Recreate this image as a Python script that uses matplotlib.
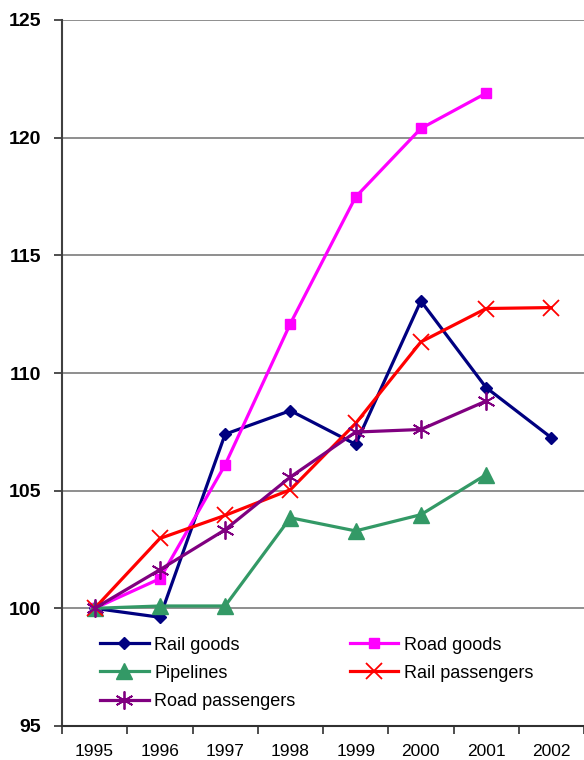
import matplotlib
matplotlib.use("Agg")
import matplotlib.pyplot as plt
import numpy as np

plt.rcParams['font.family'] = ['Liberation Sans', 'DejaVu Sans']

# index values, 1995 = 100
years = ['1995', '1996', '1997', '1998', '1999', '2000', '2001', '2002']
rail_goods = [100, 99.62, 107.4, 108.4, 106.97, 113.06, 109.38, 107.25]
road_goods = [100, 101.26, 106.1, 112.1, 117.48, 120.39, 121.89]
pipelines = [100, 100.1, 100.1, 103.85, 103.29, 103.98, 105.68]
rail_passengers = [100, 102.97, 103.95, 105.04, 107.86, 111.32, 112.74, 112.78]
road_passengers = [100, 101.64, 103.34, 105.58, 107.49, 107.6, 108.81]

fig = plt.figure(figsize=(5.84, 7.60), dpi=100)
ax = fig.add_axes([62 / 584, 1 - 726 / 760, 1 - 62 / 584, 706 / 760])

x = np.arange(len(years))
lw = 2.3
h1, = ax.plot(x[:len(rail_goods)], rail_goods, color='#000080', lw=lw,
              marker='D', ms=6, label='Rail goods', zorder=3)
h2, = ax.plot(x[:len(road_goods)], road_goods, color='#FF00FF', lw=lw,
              marker='s', ms=7, label='Road goods', zorder=3)
h3, = ax.plot(x[:len(pipelines)], pipelines, color='#339966', lw=lw,
              marker='^', ms=11.5, label='Pipelines', zorder=3)
h4, = ax.plot(x[:len(rail_passengers)], rail_passengers, color='#FF0000', lw=lw,
              marker='x', ms=12, mew=1.3, label='Rail passengers', zorder=3)
h5, = ax.plot(x[:len(road_passengers)], road_passengers, color='#800080', lw=lw,
              marker=(6, 2, 0), ms=13, mew=1.3, label='Road passengers', zorder=3)

ax.set_ylim(95, 125)
ax.set_yticks(range(95, 126, 5))
ax.set_xlim(-0.5, 7.5)
for v in range(100, 126, 5):
    ax.axhline(v, color='#707070', lw=1.1, zorder=1)

ax.set_xticks(x)
ax.set_xticklabels(years, fontsize=12.5)
ax.set_xticks(np.arange(-0.5, 7.6, 1), minor=True)
ax.tick_params(axis='x', which='major', length=0, pad=13)
ax.tick_params(axis='x', which='minor', length=6, width=1.2, direction='out', color='#303030')
ax.tick_params(axis='y', length=6, width=1.2, pad=9, labelsize=14, color='#303030')
for lbl in ax.get_yticklabels():
    lbl.set_fontweight('bold')

for side in ['top', 'right']:
    ax.spines[side].set_visible(False)
ax.spines['left'].set_color('#404040')
ax.spines['left'].set_linewidth(1.5)
ax.spines['bottom'].set_color('#303030')
ax.spines['bottom'].set_linewidth(1.5)

ax.legend([h1, h3, h5, h2, h4],
          ['Rail goods', 'Pipelines', 'Road passengers', 'Road goods', 'Rail passengers'],
          ncol=2, loc='upper left', bbox_to_anchor=(0.059, 0.137),
          frameon=False, fontsize=13, handlelength=2.7, handletextpad=0.3,
          columnspacing=3.0, labelspacing=0.62, borderaxespad=0)

fig.savefig('out.png', dpi=100)
